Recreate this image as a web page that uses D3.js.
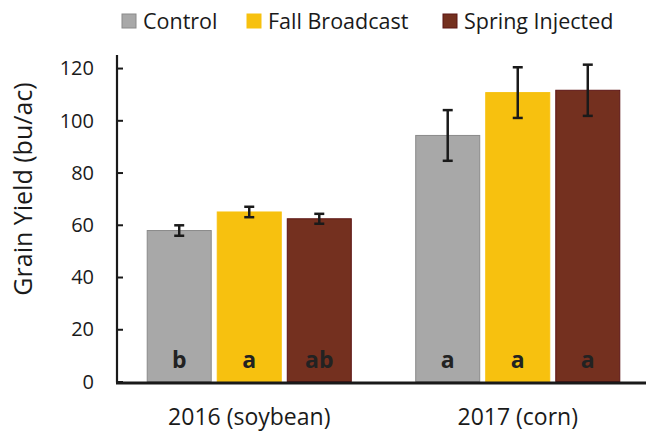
<!DOCTYPE html>
<html>
<head>
<meta charset="utf-8">
<script src="https://cdn.jsdelivr.net/npm/d3@7"></script>
<style>
  body { margin: 0; background: #fff; }
  text { font-family: "Open Sans", "Liberation Sans", sans-serif; fill: #1a1a1a; }
</style>
</head>
<body>
<div id="chart"></div>
<script>
// data
const years = ["2016 (soybean)", "2017 (corn)"];
const treatments = ["Control", "Fall Broadcast", "Spring Injected"];
const yieldMeans = [
  [57.8, 64.9, 62.3],
  [94.2, 110.6, 111.5]
];
const yieldErr = [
  [2.0, 2.0, 1.9],
  [9.7, 9.7, 9.8]
];
const letters = [
  ["b", "a", "ab"],
  ["a", "a", "a"]
];
const yTicks = [0, 20, 40, 60, 80, 100, 120];

const colors = { "Control": "#a8a8a8", "Fall Broadcast": "#f7c10f", "Spring Injected": "#74301f" };
const borders = { "Control": "#8a8a8a", "Fall Broadcast": "#f7c10f", "Spring Injected": "#5c1414" };

const width = 646, height = 432;

let svg = d3.select("#chart").append("svg")
    .attr("width", width)
    .attr("height", height);

let y = d3.scaleLinear().domain([0, 125]).range([381.5, 55]);

let x0 = d3.scaleBand().domain(years).range([115, 652]).padding(0);
let x1 = d3.scaleBand().domain(treatments)
    .range([0, x0.bandwidth()])
    .paddingInner(0.086)
    .paddingOuter(0.46);

let rows = years.flatMap((yr, i) => treatments.map((t, j) => ({
    year: yr, treatment: t, value: yieldMeans[i][j], err: yieldErr[i][j], letter: letters[i][j]
})));

// bars
svg.append("g").selectAll("rect")
    .data(rows)
    .enter()
    .append("rect")
        .attr("x", d => x0(d.year) + x1(d.treatment))
        .attr("y", d => y(d.value))
        .attr("width", x1.bandwidth())
        .attr("height", d => y(0) - y(d.value))
        .style("fill", d => colors[d.treatment])
        .style("stroke", d => borders[d.treatment])
        .style("stroke-width", 1);

// error bars
let eb = svg.append("g").selectAll("g")
    .data(rows)
    .enter()
    .append("g")
        .attr("transform", d => "translate(" + (x0(d.year) + x1(d.treatment) + x1.bandwidth() / 2) + ",0)");

eb.append("line")
    .attr("y1", d => y(d.value - d.err))
    .attr("y2", d => y(d.value + d.err))
    .style("stroke", "#1a1a1a").style("stroke-width", 2.5);
eb.selectAll(".cap")
    .data(d => [d.value - d.err, d.value + d.err])
    .enter()
    .append("line")
        .attr("x1", -5).attr("x2", 5)
        .attr("y1", v => y(v)).attr("y2", v => y(v))
        .style("stroke", "#1a1a1a").style("stroke-width", 2.5);

// significance letters
svg.append("g").selectAll("text")
    .data(rows)
    .enter()
    .append("text")
        .attr("x", d => x0(d.year) + x1(d.treatment) + x1.bandwidth() / 2)
        .attr("y", 368)
        .attr("text-anchor", "middle")
        .style("font-size", "23px")
        .style("font-weight", "bold")
        .style("fill", "#222")
        .text(d => d.letter);

// y axis
let yAxis = svg.append("g")
    .attr("transform", "translate(117,0)")
    .call(d3.axisRight(y).tickValues(yTicks).tickSize(6).tickFormat(""));
yAxis.select(".domain").remove();
yAxis.selectAll(".tick line").style("stroke", "#1a1a1a").style("stroke-width", 2);
svg.append("line")
    .attr("x1", 117).attr("x2", 117)
    .attr("y1", y(125)).attr("y2", y(0) + 1)
    .style("stroke", "#1a1a1a").style("stroke-width", 2.2);

svg.append("g").selectAll("text")
    .data(yTicks)
    .enter()
    .append("text")
        .attr("x", 94)
        .attr("y", d => y(d))
        .attr("dy", "0.36em")
        .attr("text-anchor", "end")
        .style("font-size", "20px")
        .text(d => d);

svg.append("text")
    .attr("transform", "translate(32," + 189 + ") rotate(-90)")
    .attr("text-anchor", "middle")
    .style("font-size", "25px")
    .text("Grain Yield (bu/ac)");

// x axis
svg.append("line")
    .attr("x1", 116).attr("x2", 646)
    .attr("y1", y(0) + 1.5).attr("y2", y(0) + 1.5)
    .style("stroke", "#1a1a1a").style("stroke-width", 3);

svg.append("g").selectAll("text")
    .data(years)
    .enter()
    .append("text")
        .attr("x", d => x0(d) + x0.bandwidth() / 2)
        .attr("y", 425)
        .attr("text-anchor", "middle")
        .style("font-size", "23px")
        .text(d => d);

// legend
const legendX = [122, 247, 443];
let lg = svg.append("g").selectAll("g")
    .data(treatments)
    .enter()
    .append("g")
        .attr("transform", (d, i) => "translate(" + legendX[i] + ",0)");
lg.append("rect")
    .attr("x", 0).attr("y", 14)
    .attr("width", 14).attr("height", 14)
    .style("fill", d => colors[d])
    .style("stroke", d => borders[d]);
lg.append("text")
    .attr("x", 21).attr("y", 21)
    .attr("dy", "0.35em")
    .style("font-size", "21.5px")
    .text(d => d);
</script>
</body>
</html>
